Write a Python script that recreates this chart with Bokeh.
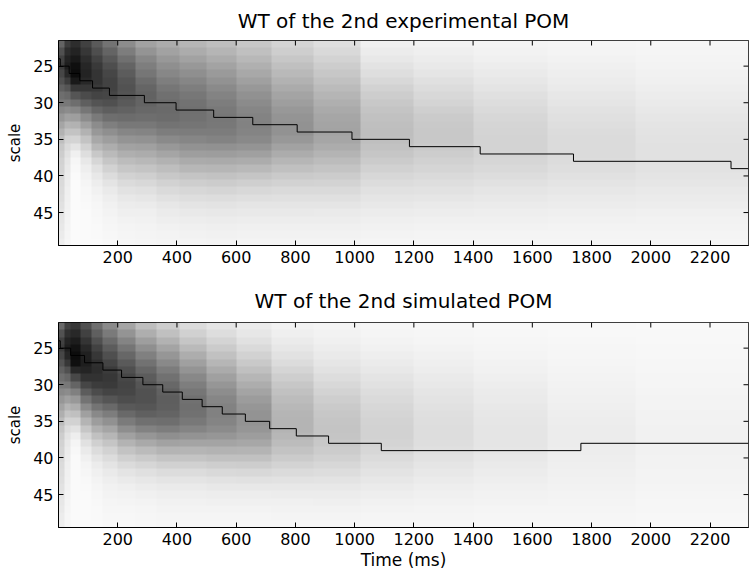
import numpy as np
from bokeh.plotting import figure
from bokeh.layouts import column
from bokeh.models import Range1d, FixedTicker
from bokeh.embed import file_html
from bokeh.resources import INLINE

# ---------------- data ----------------
scales = list(range(22, 50))          # rows of the WT image (scale 22 .. 49)
time_edges = [0, 20, 40, 75, 110, 150, 200, 260, 330, 410, 500, 600, 720, 860,
              1020, 1200, 1400, 1650, 1950, 2330]   # column edges (ms)

# gray level (0 black .. 255 white) per time column, listed for scales 22..49
exp_wt_gray = [
    [100, 80, 65, 60, 70, 80, 95, 110, 120, 135, 150, 165, 178, 190, 200, 205, 210, 212, 215, 218, 220, 222, 225, 228, 230, 232, 235, 238],
    [60, 45, 35, 30, 40, 60, 85, 105, 120, 140, 160, 180, 195, 210, 218, 225, 230, 233, 235, 237, 239, 240, 241, 242, 243, 244, 245, 246],
    [45, 35, 25, 15, 12, 25, 55, 85, 110, 135, 158, 178, 195, 212, 228, 240, 246, 248, 250, 251, 251, 251, 251, 251, 251, 251, 251, 251],
    [65, 55, 45, 38, 35, 40, 55, 75, 95, 118, 140, 160, 178, 195, 210, 222, 232, 238, 242, 245, 247, 248, 249, 250, 250, 250, 250, 250],
    [90, 78, 66, 57, 52, 52, 57, 68, 84, 102, 122, 140, 152, 168, 183, 200, 214, 225, 232, 237, 241, 244, 246, 247, 248, 249, 249, 250],
    [115, 100, 88, 78, 70, 66, 66, 70, 80, 94, 110, 127, 143, 158, 173, 186, 198, 210, 220, 228, 234, 238, 241, 243, 245, 246, 247, 248],
    [140, 125, 112, 100, 92, 85, 82, 84, 90, 98, 108, 120, 134, 148, 162, 175, 188, 199, 210, 219, 226, 232, 236, 239, 242, 244, 245, 246],
    [162, 148, 135, 126, 118, 108, 101, 98, 100, 104, 110, 120, 132, 146, 160, 172, 184, 196, 207, 216, 224, 230, 235, 239, 241, 243, 244, 245],
    [172, 162, 152, 143, 135, 126, 118, 112, 108, 106, 108, 115, 125, 138, 152, 165, 178, 190, 200, 210, 218, 225, 231, 235, 238, 241, 243, 244],
    [182, 172, 162, 152, 143, 134, 126, 119, 114, 112, 113, 117, 124, 134, 146, 158, 171, 183, 196, 206, 215, 222, 228, 233, 237, 240, 242, 244],
    [190, 181, 172, 163, 154, 146, 138, 131, 125, 121, 119, 120, 124, 131, 145, 157, 170, 182, 194, 204, 213, 221, 227, 232, 236, 239, 241, 243],
    [200, 192, 184, 176, 168, 160, 152, 145, 139, 134, 131, 130, 132, 137, 148, 160, 172, 185, 197, 207, 216, 223, 229, 233, 237, 240, 242, 244],
    [212, 206, 199, 192, 185, 178, 171, 164, 158, 152, 148, 146, 146, 152, 162, 172, 182, 192, 202, 210, 218, 224, 229, 233, 237, 240, 242, 244],
    [222, 217, 211, 205, 199, 193, 187, 181, 175, 170, 166, 164, 163, 166, 172, 180, 188, 196, 204, 211, 218, 224, 229, 234, 237, 240, 242, 244],
    [240, 236, 232, 227, 222, 216, 210, 205, 200, 196, 193, 191, 190, 191, 194, 198, 203, 209, 215, 220, 225, 229, 232, 236, 239, 241, 243, 245],
    [242, 239, 236, 233, 229, 224, 220, 216, 212, 207, 203, 201, 200, 200, 202, 205, 209, 213, 218, 222, 226, 230, 234, 237, 240, 242, 244, 245],
    [244, 242, 240, 237, 234, 231, 228, 224, 221, 218, 215, 213, 212, 211, 211, 212, 214, 217, 221, 225, 229, 232, 235, 238, 240, 242, 244, 245],
    [245, 244, 242, 240, 238, 236, 234, 231, 229, 226, 224, 222, 220, 219, 219, 219, 220, 222, 225, 228, 231, 234, 236, 239, 241, 243, 244, 245],
    [246, 245, 244, 243, 241, 240, 238, 236, 234, 232, 230, 228, 227, 226, 225, 225, 225, 226, 228, 230, 233, 235, 237, 240, 242, 243, 244, 245],
]

sim_wt_gray = [
    [105, 82, 65, 60, 70, 82, 96, 110, 122, 136, 150, 163, 175, 188, 198, 205, 210, 213, 216, 219, 221, 223, 226, 229, 231, 233, 236, 238],
    [65, 48, 36, 30, 38, 55, 80, 102, 120, 140, 160, 180, 196, 210, 220, 227, 232, 235, 237, 239, 240, 241, 242, 243, 244, 245, 246, 246],
    [55, 40, 28, 18, 12, 15, 40, 72, 100, 128, 152, 173, 192, 210, 226, 238, 245, 248, 250, 250, 250, 250, 250, 250, 250, 250, 250, 250],
    [80, 65, 52, 40, 32, 30, 36, 50, 70, 92, 115, 138, 160, 180, 198, 213, 225, 234, 240, 244, 246, 248, 249, 250, 250, 250, 250, 250],
    [110, 95, 80, 66, 55, 47, 45, 50, 60, 76, 95, 116, 137, 157, 176, 193, 208, 220, 229, 236, 240, 243, 245, 247, 248, 249, 249, 250],
    [138, 122, 106, 92, 79, 68, 59, 55, 58, 68, 85, 105, 125, 145, 165, 182, 197, 210, 220, 228, 234, 238, 241, 243, 245, 246, 247, 248],
    [165, 148, 132, 117, 103, 90, 79, 71, 68, 70, 77, 89, 105, 123, 142, 161, 179, 195, 208, 219, 228, 234, 239, 242, 244, 246, 247, 248],
    [190, 174, 158, 143, 128, 114, 102, 92, 85, 81, 81, 86, 96, 112, 130, 150, 169, 187, 202, 214, 224, 231, 236, 240, 243, 245, 246, 247],
    [205, 192, 178, 164, 150, 137, 124, 113, 104, 97, 94, 95, 100, 110, 125, 143, 162, 180, 196, 209, 220, 228, 234, 238, 241, 243, 245, 246],
    [220, 209, 198, 186, 173, 160, 148, 136, 126, 118, 113, 111, 113, 120, 132, 147, 164, 181, 196, 209, 220, 228, 234, 238, 241, 243, 245, 246],
    [229, 221, 212, 203, 193, 182, 171, 160, 150, 141, 134, 130, 129, 132, 139, 150, 164, 179, 193, 206, 217, 226, 232, 237, 240, 243, 245, 246],
    [236, 231, 225, 218, 210, 201, 192, 182, 173, 164, 156, 150, 147, 147, 150, 157, 167, 180, 193, 205, 216, 225, 232, 237, 240, 243, 245, 246],
    [242, 239, 235, 231, 226, 220, 213, 206, 199, 193, 188, 184, 181, 180, 180, 183, 188, 195, 203, 211, 219, 226, 232, 236, 240, 242, 244, 246],
    [244, 242, 240, 237, 234, 230, 226, 221, 216, 211, 206, 202, 199, 197, 196, 197, 200, 204, 209, 215, 221, 227, 232, 236, 239, 242, 244, 246],
    [246, 245, 243, 241, 238, 235, 232, 228, 225, 221, 218, 215, 213, 211, 210, 210, 212, 215, 219, 223, 227, 231, 235, 238, 241, 243, 245, 246],
    [247, 246, 245, 243, 241, 239, 237, 234, 232, 229, 227, 225, 223, 222, 221, 221, 222, 224, 226, 229, 232, 235, 238, 240, 242, 244, 245, 246],
    [248, 247, 246, 245, 244, 242, 241, 239, 237, 235, 234, 232, 231, 230, 229, 229, 229, 230, 232, 234, 236, 238, 240, 242, 243, 245, 246, 247],
    [248, 248, 247, 246, 246, 245, 244, 243, 242, 241, 240, 239, 238, 237, 236, 236, 236, 237, 238, 239, 240, 241, 242, 243, 244, 245, 246, 247],
    [249, 248, 248, 247, 247, 246, 246, 245, 245, 244, 243, 243, 242, 242, 241, 241, 241, 241, 242, 242, 243, 243, 244, 245, 246, 246, 247, 248],
]

# ridge (maximum-modulus scale) of each transform, as steps
exp_ridge_time = [0, 6, 36, 72, 115, 172, 290, 397, 524, 656, 806, 991, 1185, 1424, 1739, 2271, 2330]
exp_ridge_scale = [24, 25, 26, 27, 28, 29, 30, 31, 32, 33, 34, 35, 36, 37, 38, 39, 39]
sim_ridge_time = [0, 6, 41, 88, 150, 213, 285, 352, 418, 485, 553, 631, 713, 803, 912, 1090, 1764, 2330]
sim_ridge_scale = [24, 25, 26, 27, 28, 29, 30, 31, 32, 33, 34, 35, 36, 37, 38, 39, 38, 38]

x_ticks = [200, 400, 600, 800, 1000, 1200, 1400, 1600, 1800, 2000, 2200]
y_ticks = [25, 30, 35, 40, 45]

titles = ["WT of the 2nd experimental POM", "WT of the 2nd simulated POM"]

FONT = "DejaVu Sans"
FRAME_W, FRAME_H, TICK_PX = 690, 205, 5


def gray_image(gray_cols):
    step = 5
    reps = (np.diff(time_edges) // step).astype(int)
    g = np.array(gray_cols, dtype=np.uint8).T          # rows = scales
    g = np.repeat(g, reps, axis=1)                    # same cell value repeated
    img = np.empty(g.shape, dtype=np.uint32)
    view = img.view(dtype=np.uint8).reshape(g.shape + (4,))
    view[..., 0] = g
    view[..., 1] = g
    view[..., 2] = g
    view[..., 3] = 255
    return img


def style_axis(ax, ticks):
    ax.ticker = FixedTicker(ticks=ticks)
    ax.major_tick_in = TICK_PX
    ax.major_tick_out = 0
    ax.minor_tick_in = 0
    ax.minor_tick_out = 0
    ax.axis_line_color = "black"
    ax.major_tick_line_color = "black"
    ax.major_label_text_font = FONT
    ax.major_label_text_font_size = "16px"
    ax.major_label_text_color = "black"
    ax.major_label_standoff = 5
    ax.axis_label_text_font = FONT
    ax.axis_label_text_font_style = "normal"
    ax.axis_label_text_color = "black"


def make_panel(title, gray_cols, rt, rs, xlabel, border_top, border_bottom, title_standoff):
    x0, x1 = time_edges[0], time_edges[-1]
    y_top, y_bot = scales[0] - 0.5, scales[-1] + 0.5
    p = figure(frame_width=FRAME_W, frame_height=FRAME_H,
               x_range=Range1d(x0, x1), y_range=Range1d(y_bot, y_top),
               output_backend="svg", toolbar_location=None,
               min_border_left=58, min_border_right=1,
               min_border_top=border_top, min_border_bottom=border_bottom,
               background_fill_color="white", border_fill_color="white")
    p.grid.visible = False
    p.outline_line_color = "black"

    p.image_rgba(image=[gray_image(gray_cols)], x=x0, y=y_top, dw=x1 - x0, dh=len(scales))
    p.step(rt, rs, mode="after", line_color="black", line_width=1)

    # inward ticks on the top and right edges of the box (MATLAB "box on")
    dy = (y_bot - y_top) * TICK_PX / FRAME_H
    dx = (x1 - x0) * TICK_PX / FRAME_W
    p.segment(x0=x_ticks, y0=[y_top] * len(x_ticks), x1=x_ticks, y1=[y_top + dy] * len(x_ticks),
              line_color="black", line_width=1)
    p.segment(x0=[x1] * len(y_ticks), y0=y_ticks, x1=[x1 - dx] * len(y_ticks), y1=y_ticks,
              line_color="black", line_width=1)

    style_axis(p.xaxis[0], x_ticks)
    style_axis(p.yaxis[0], y_ticks)
    p.yaxis[0].axis_label = "scale"
    p.yaxis[0].axis_label_text_font_size = "15px"
    p.yaxis[0].axis_label_standoff = 6
    if xlabel:
        p.xaxis[0].axis_label = xlabel
        p.xaxis[0].axis_label_text_font_size = "17px"
        p.xaxis[0].axis_label_standoff = 2

    p.title.text = title
    p.title.align = "center"
    p.title.vertical_align = "top"
    p.title.text_font = FONT
    p.title.text_font_size = "20px"
    p.title.text_font_style = "normal"
    p.title.text_color = "black"
    p.title.standoff = title_standoff
    return p


p1 = make_panel(titles[0], exp_wt_gray, exp_ridge_time, exp_ridge_scale, None, 40, 35, 12)
p2 = make_panel(titles[1], sim_wt_gray, sim_ridge_time, sim_ridge_scale, "Time (ms)", 42, 44, 15)

layout = column(p1, p2, spacing=0)
open("out.html", "w").write(file_html(layout, INLINE))
